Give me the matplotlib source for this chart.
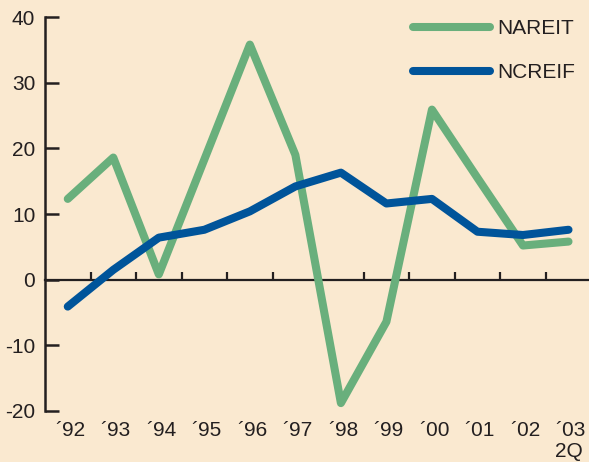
import matplotlib
matplotlib.use("Agg")
import matplotlib.pyplot as plt
from matplotlib import font_manager

years = ["´92", "´93", "´94", "´95", "´96", "´97", "´98", "´99", "´00", "´01", "´02", "´03"]
nareit = [12.3, 18.6, 0.8, 18.3, 35.8, 19.0, -18.8, -6.4, 25.9, 15.5, 5.2, 5.8]
ncreif = [-4.1, 1.5, 6.4, 7.6, 10.4, 14.2, 16.3, 11.6, 12.3, 7.3, 6.8, 7.6]
yticks = [-20, -10, 0, 10, 20, 30, 40]

names = {f.name for f in font_manager.fontManager.ttflist}
fam = "Liberation Sans Narrow" if "Liberation Sans Narrow" in names else "Liberation Sans"
plt.rcParams['font.family'] = [fam, 'DejaVu Sans']

bg = "#FAE9D0"
green = "#69AF7C"
blue = "#00549A"
dark = "#231F20"

fig = plt.figure(figsize=(5.89, 4.62), dpi=100, facecolor=bg)
ax = fig.add_axes([45/589, 51/462, 1 - 45/589, 394/462])
ax.set_facecolor(bg)

x = list(range(len(years)))
ax.plot(x, nareit, color=green, lw=5.8, solid_capstyle='round', solid_joinstyle='round', label="NAREIT", zorder=3)
ax.plot(x, ncreif, color=blue, lw=5.8, solid_capstyle='round', solid_joinstyle='round', label="NCREIF", zorder=4)

ax.set_xlim(-0.5, 11.45)
ax.set_ylim(-20, 40)

for s in ['top', 'right']:
    ax.spines[s].set_visible(False)
ax.spines['left'].set_color(dark)
ax.spines['left'].set_linewidth(1.8)
ax.spines['bottom'].set_position(('data', 0))
ax.spines['bottom'].set_color(dark)
ax.spines['bottom'].set_linewidth(1.6)

ax.set_yticks(yticks)
ax.set_yticklabels([str(v) for v in yticks])
ax.tick_params(axis='y', direction='in', length=10, width=1.8, color=dark, pad=7,
               labelsize=15, labelcolor=dark)
ax.set_xticks([i + 0.5 for i in x[:-1]])
ax.set_xticklabels([])
ax.tick_params(axis='x', direction='in', length=6, width=1.6, color=dark)

for i, lab in enumerate(years):
    ax.annotate(lab, xy=(i, -20), xycoords='data', xytext=(1.5, -7), textcoords='offset points',
                ha='center', va='top', fontsize=15, color=dark, annotation_clip=False)
ax.annotate("2Q", xy=(x[-1], -20), xycoords='data', xytext=(0, -22), textcoords='offset points',
            ha='center', va='top', fontsize=15, color=dark, annotation_clip=False)

leg = ax.legend(loc='upper left', bbox_to_anchor=(413/589, 1 - 19/462), bbox_transform=fig.transFigure,
                frameon=False, fontsize=15, handlelength=3.7, handletextpad=0.35,
                labelspacing=1.2, borderpad=0, borderaxespad=0)
for t in leg.get_texts():
    t.set_color(dark)

fig.savefig("out.png", dpi=100, facecolor=bg)
